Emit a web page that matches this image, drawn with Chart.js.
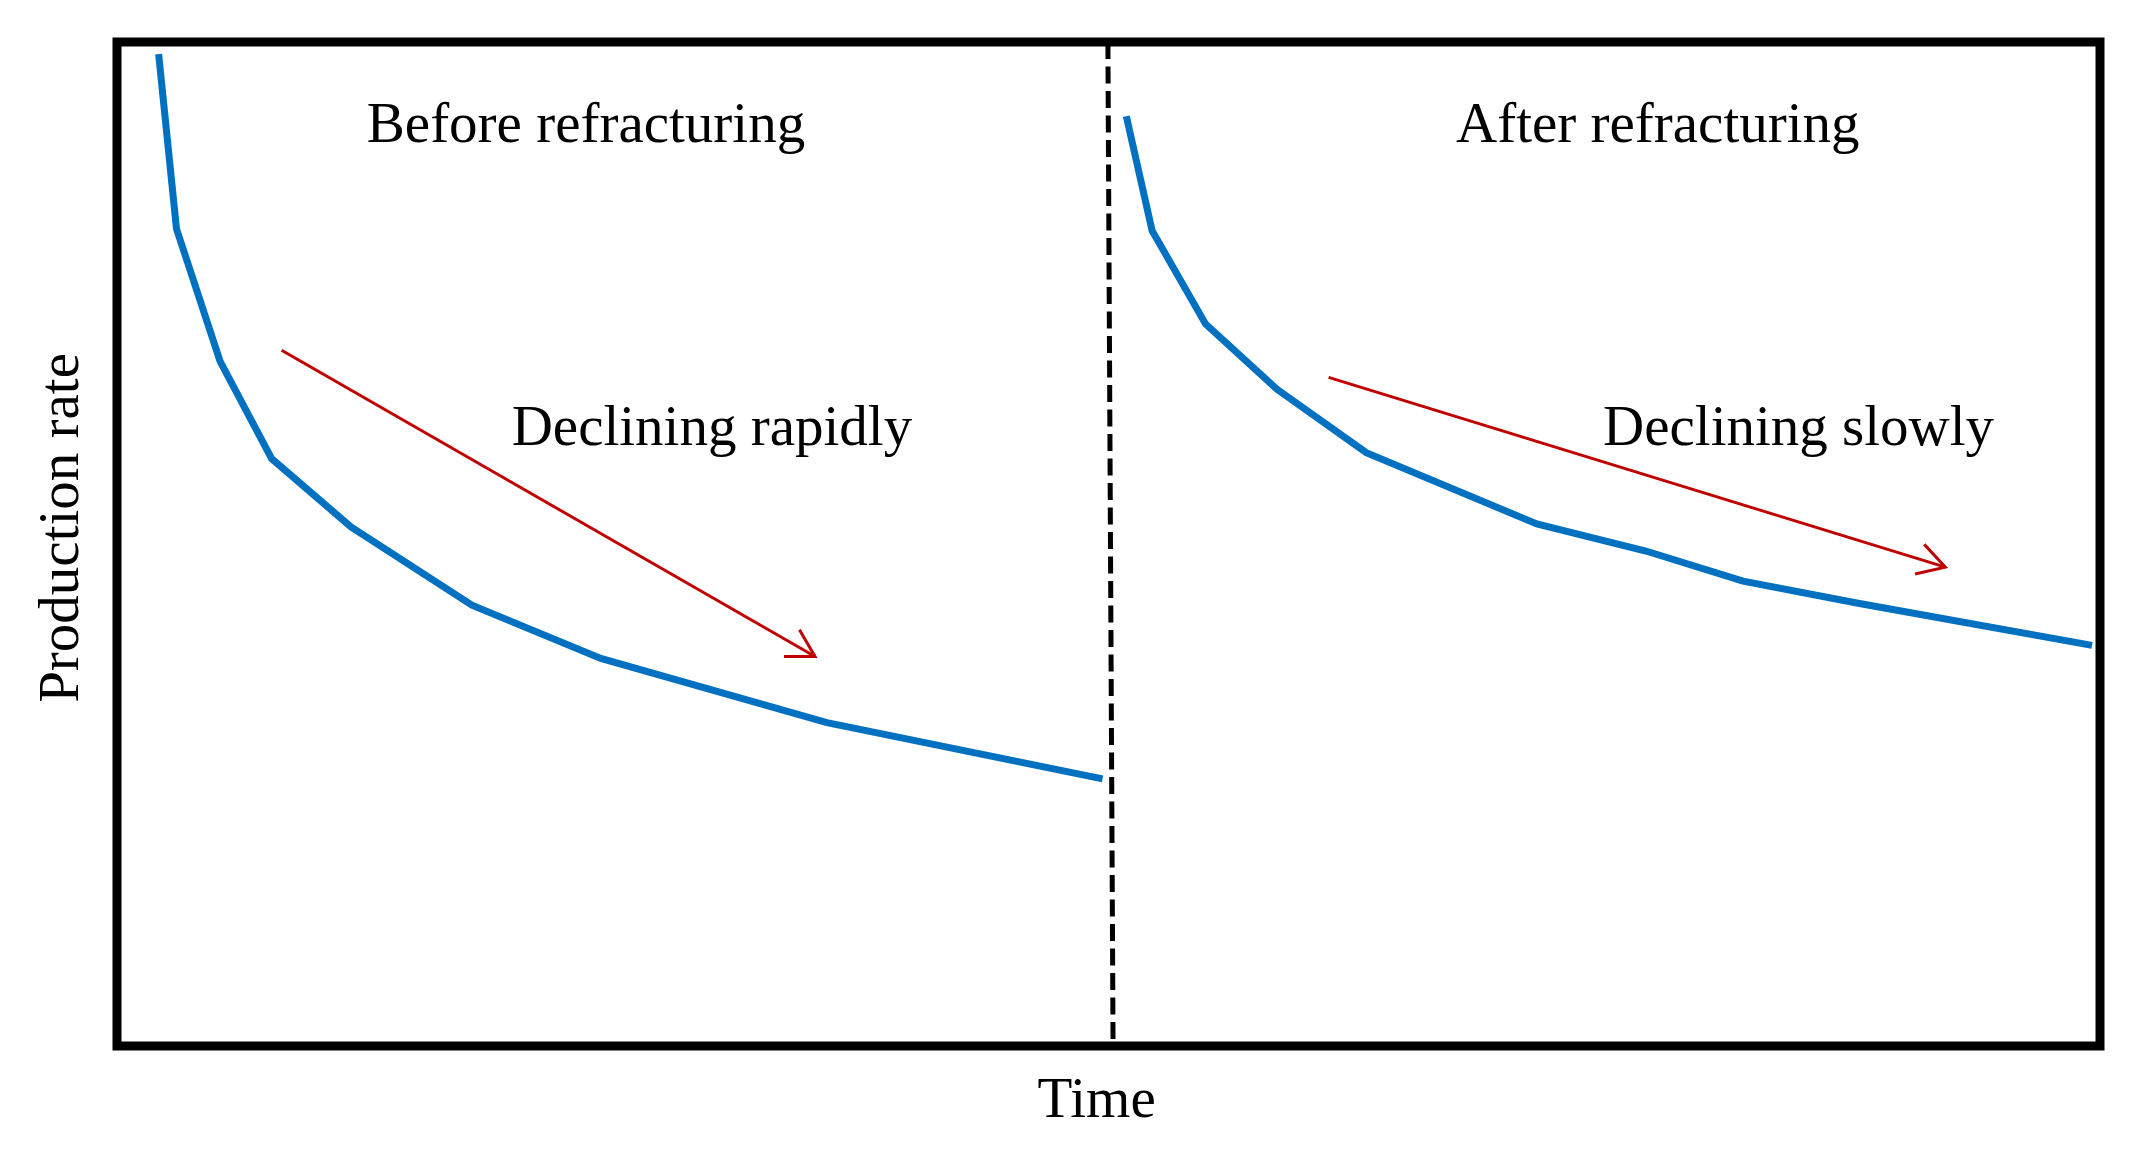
<!DOCTYPE html>
<html>
<head>
<meta charset="utf-8">
<script src="https://cdn.jsdelivr.net/npm/chart.js@4/dist/chart.umd.min.js"></script>
<style>
  html, body { margin: 0; padding: 0; background: #fff; }
  canvas { display: block; }
</style>
</head>
<body>
<canvas id="decline" width="2135" height="1150"></canvas>
<script>
// production decline before and after refracturing (schematic, arbitrary units 0-100)
const timeBefore = [2.1, 3.0, 5.2, 7.8, 11.8, 17.9, 24.4, 35.8, 49.7];
const rateBefore = [98.8, 81.4, 68.2, 58.5, 51.7, 43.9, 38.6, 32.2, 26.6];
const timeAfter = [50.9, 52.2, 54.9, 58.5, 63.0, 71.6, 77.1, 82.0, 87.8, 99.6];
const rateAfter = [92.6, 81.2, 71.9, 65.4, 59.1, 52.0, 49.3, 46.3, 44.1, 39.9];

// refracturing moment (dashed line)
const refracTime = [49.97, 50.23];
const refracRate = [100, 0];

// trend arrows
const trendRapidTime = [8.3, 35.2];
const trendRapidRate = [69.3, 38.8];
const trendSlowTime = [61.1, 92.2];
const trendSlowRate = [66.6, 47.7];

// text labels
const labelTexts = ["Before refracturing", "After refracturing", "Declining rapidly", "Declining slowly"];
const labelTime = [23.65, 77.7, 30.0, 84.8];
const labelRate = [90.0, 90.0, 59.9, 59.9];

const xTitle = "Time";
const yTitle = "Production rate";

const serif = '"Liberation Serif", "Times New Roman", serif';
const blue = "#0070C0";
const red = "#C00000";

function toPoints(xs, ys) {
  return xs.map((x, i) => ({ x: x, y: ys[i] }));
}

const arrowHeads = {
  id: "arrowHeads",
  afterDatasetsDraw(chart) {
    const ctx = chart.ctx;
    chart.data.datasets.forEach((ds, i) => {
      if (!ds.arrow) return;
      const pts = chart.getDatasetMeta(i).data;
      const a = pts[pts.length - 2];
      const b = pts[pts.length - 1];
      const ang = Math.atan2(b.y - a.y, b.x - a.x);
      const len = 31;
      const spread = Math.PI / 6;
      ctx.save();
      ctx.strokeStyle = ds.borderColor;
      ctx.lineWidth = ds.borderWidth;
      ctx.beginPath();
      ctx.moveTo(b.x - len * Math.cos(ang - spread), b.y - len * Math.sin(ang - spread));
      ctx.lineTo(b.x, b.y);
      ctx.lineTo(b.x - len * Math.cos(ang + spread), b.y - len * Math.sin(ang + spread));
      ctx.stroke();
      ctx.restore();
    });
  },
};

const labelsAndFrame = {
  id: "labelsAndFrame",
  afterDraw(chart) {
    const ctx = chart.ctx;
    const xs = chart.scales.x;
    const ys = chart.scales.y;
    const area = chart.chartArea;
    ctx.save();
    ctx.fillStyle = "#000";
    ctx.font = "57px " + serif;
    ctx.textAlign = "center";
    ctx.textBaseline = "alphabetic";
    labelTexts.forEach((t, i) => {
      ctx.fillText(t, xs.getPixelForValue(labelTime[i]), ys.getPixelForValue(labelRate[i]));
    });

    // axis titles, a little off the centre as in the original
    ctx.fillText(xTitle, area.left + (area.right - area.left) * 0.494, area.bottom + 71);
    ctx.save();
    ctx.translate(area.left - 39, area.top + (area.bottom - area.top) * 0.484);
    ctx.rotate(-Math.PI / 2);
    ctx.fillText(yTitle, 0, 0);
    ctx.restore();

    ctx.strokeStyle = "#000";
    ctx.lineWidth = 9;
    ctx.strokeRect(area.left, area.top, area.right - area.left, area.bottom - area.top);
    ctx.restore();
  },
};

new Chart(document.querySelector("#decline"), {
  type: "line",
  data: {
    datasets: [
      {
        data: toPoints(timeBefore, rateBefore),
        borderColor: blue,
        borderWidth: 7,
        tension: 0,
      },
      {
        data: toPoints(timeAfter, rateAfter),
        borderColor: blue,
        borderWidth: 7,
        tension: 0,
      },
      {
        data: toPoints(refracTime, refracRate),
        borderColor: "#000",
        borderWidth: 5,
        borderDash: [17, 7.5],
      },
      {
        data: toPoints(trendRapidTime, trendRapidRate),
        borderColor: red,
        borderWidth: 3,
        arrow: true,
      },
      {
        data: toPoints(trendSlowTime, trendSlowRate),
        borderColor: red,
        borderWidth: 3,
        arrow: true,
      },
    ],
  },
  options: {
    responsive: false,
    animation: false,
    devicePixelRatio: 1,
    parsing: false,
    elements: { point: { radius: 0 } },
    layout: { padding: { top: 42, right: 35, left: 117, bottom: 104 } },
    plugins: {
      legend: { display: false },
      tooltip: { enabled: false },
    },
    scales: {
      x: {
        type: "linear",
        min: 0,
        max: 100,
        display: false,
      },
      y: {
        type: "linear",
        min: 0,
        max: 100,
        display: false,
      },
    },
  },
  plugins: [arrowHeads, labelsAndFrame],
});
</script>
</body>
</html>
